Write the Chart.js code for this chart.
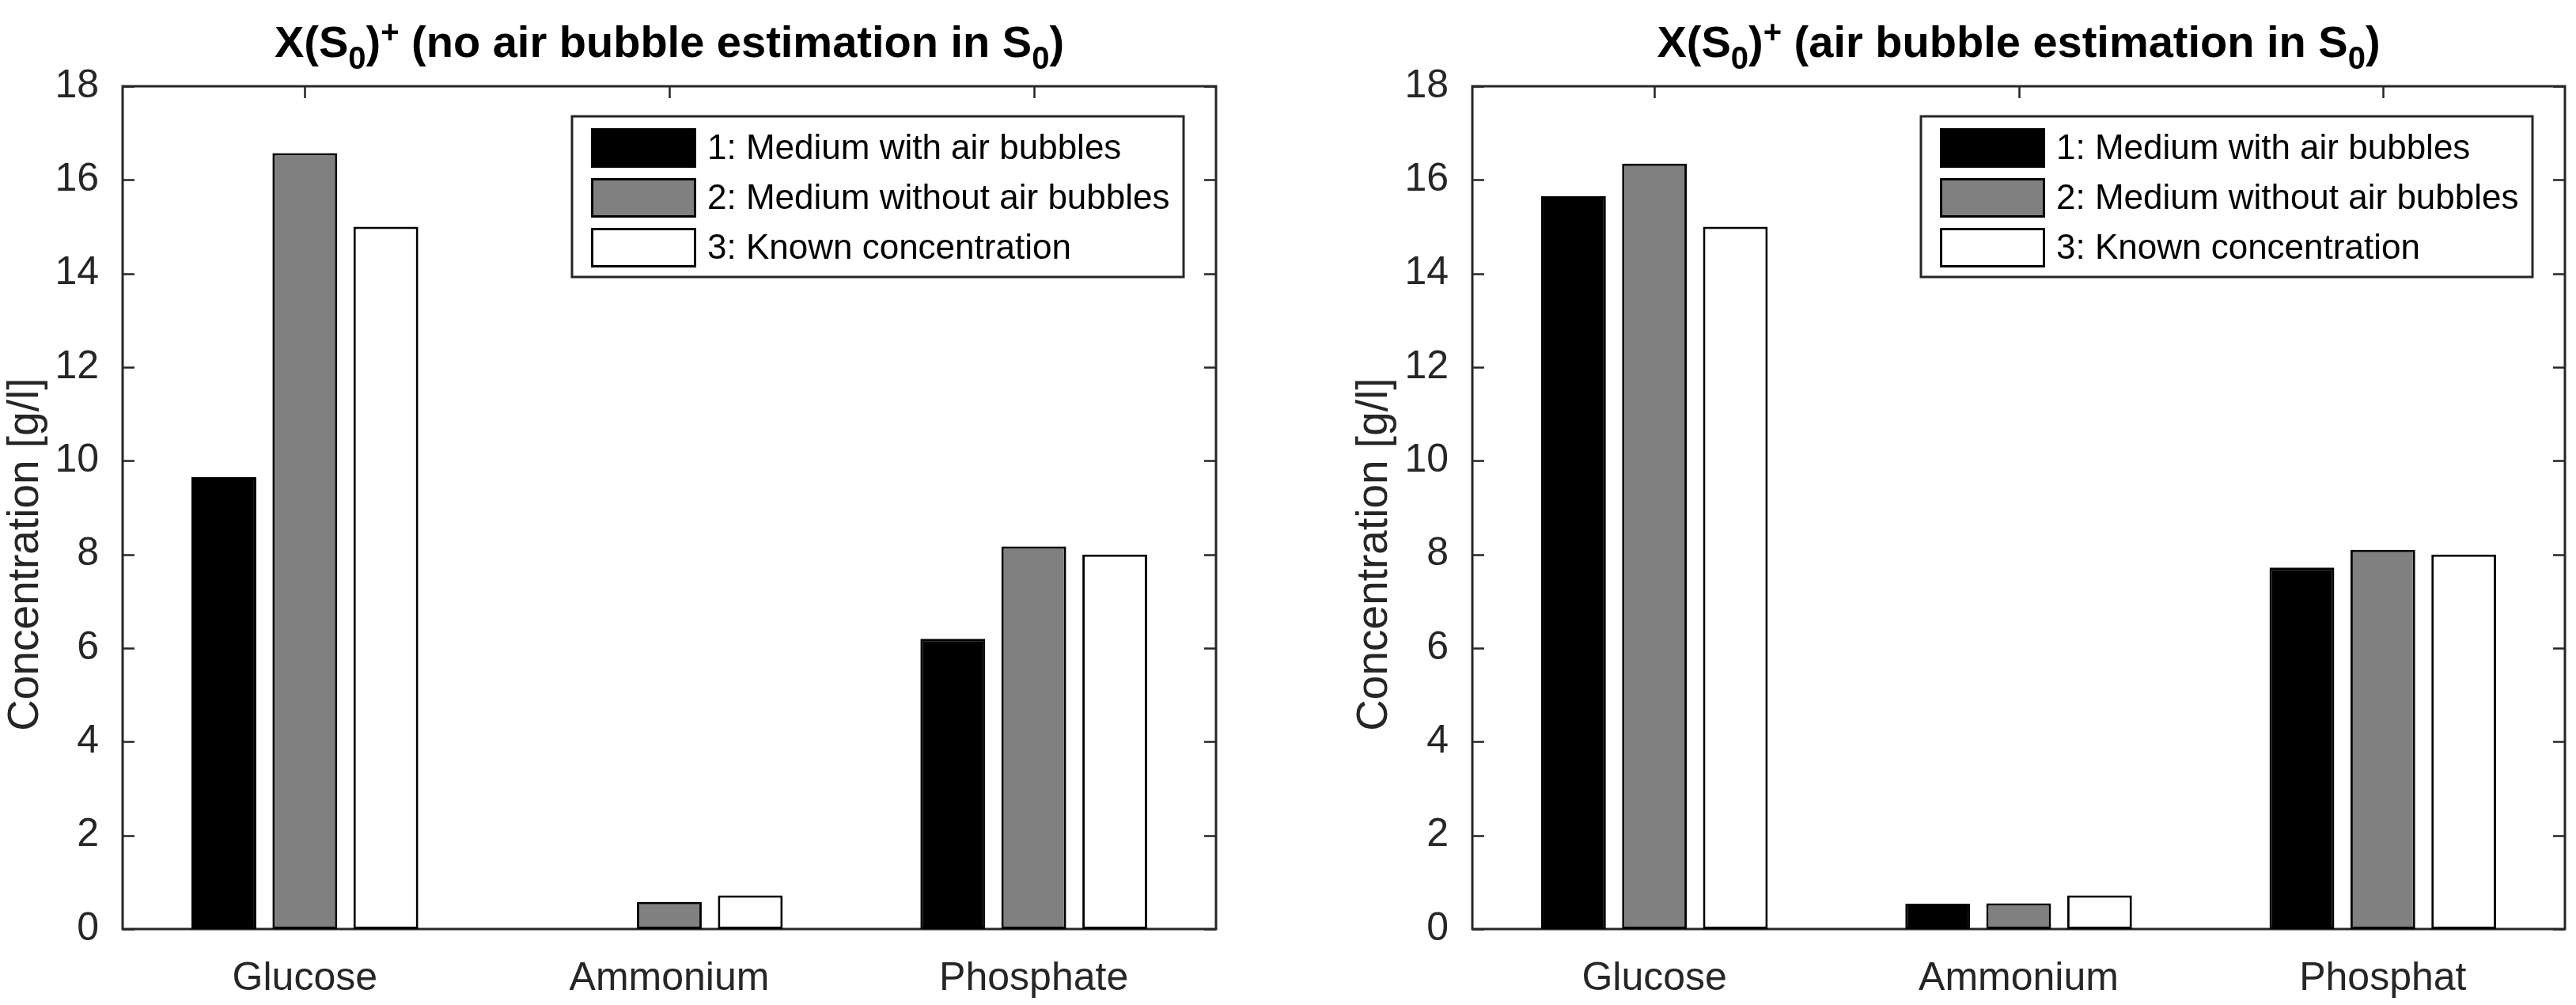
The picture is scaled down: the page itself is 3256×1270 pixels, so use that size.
<!DOCTYPE html>
<html>
<head>
<meta charset="utf-8">
<title>Concentration</title>
<script src="https://cdn.jsdelivr.net/npm/chart.js@4.4.1/dist/chart.umd.min.js"></script>
<style>
body { margin: 0; background: #fff; width: 3256px; height: 1270px; overflow: hidden; }
.wrap { float: left; width: 1628px; height: 1270px; }
canvas { display: block; }
</style>
</head>
<body>
<div class="wrap"><canvas id="left" width="1628" height="1270"></canvas></div>
<div class="wrap"><canvas id="right" width="1628" height="1270"></canvas></div>
<script>
// data
var categoriesA = ['Glucose', 'Ammonium', 'Phosphate'];
var categoriesB = ['Glucose', 'Ammonium', 'Phosphat'];
var seriesNames = ['1: Medium with air bubbles', '2: Medium without air bubbles', '3: Known concentration'];

// left: no air bubble estimation in S0
var withBubblesA = [9.65, 0, 6.2];
var withoutBubblesA = [16.57, 0.58, 8.17];
var knownA = [15, 0.72, 8];

// right: air bubble estimation in S0
var withBubblesB = [15.65, 0.54, 7.72];
var withoutBubblesB = [16.35, 0.55, 8.1];
var knownB = [15, 0.72, 8];

var yMax = 18, yStep = 2;
var yLabel = 'Concentration [g/l]';

var FONT = '"Liberation Sans", Arial, Helvetica, sans-serif';
var AXIS = '#262626';
var fills = ['#000000', '#808080', '#ffffff'];

function makeDatasets(values) {
    return values.map(function(v, i) {
        return {
            label: seriesNames[i],
            data: v,
            backgroundColor: fills[i],
            borderColor: '#000',
            borderWidth: 3,
            borderSkipped: false,
            categoryPercentage: 2 / 3,
            barPercentage: 0.8
        };
    });
}

// box + inward tick marks, like matlab axes
var boxPlugin = {
    id: 'axesBox',
    beforeDatasetsDraw: function(chart) {
        var ctx = chart.ctx, a = chart.chartArea, sx = chart.scales.x, sy = chart.scales.y;
        ctx.save();
        ctx.strokeStyle = AXIS;
        ctx.lineWidth = 2.5;
        ctx.beginPath();
        sy.ticks.forEach(function(t) {
            var py = Math.round(sy.getPixelForValue(t.value)) + 0.5;
            ctx.moveTo(a.left, py); ctx.lineTo(a.left + 15, py);
            ctx.moveTo(a.right, py); ctx.lineTo(a.right - 15, py);
        });
        sx.ticks.forEach(function(t, i) {
            var px = Math.round(sx.getPixelForTick(i)) + 0.5;
            ctx.moveTo(px, a.top); ctx.lineTo(px, a.top + 15);
            ctx.moveTo(px, a.bottom); ctx.lineTo(px, a.bottom - 15);
        });
        ctx.stroke();
        ctx.lineWidth = 3;
        ctx.strokeRect(a.left, a.top, a.right - a.left, a.bottom - a.top);
        ctx.restore();
    }
};

// title with sub/superscripts + rotated y label
var titlePlugin = {
    id: 'texTitle',
    afterDraw: function(chart, args, opts) {
        var ctx = chart.ctx, a = chart.chartArea;
        var big = 'bold 56px ' + FONT, small = 'bold 40px ' + FONT;
        var base = 72;
        ctx.save();
        ctx.fillStyle = '#000';
        ctx.textBaseline = 'alphabetic';
        ctx.textAlign = 'left';
        var total = 0;
        opts.parts.forEach(function(p) {
            ctx.font = p.s === 'n' ? big : small;
            total += ctx.measureText(p.t).width;
        });
        var x = (a.left + a.right) / 2 - total / 2;
        opts.parts.forEach(function(p) {
            ctx.font = p.s === 'n' ? big : small;
            var dy = p.s === 'sub' ? 15 : (p.s === 'sup' ? -18 : 0);
            ctx.fillText(p.t, x, base + dy);
            x += ctx.measureText(p.t).width;
        });

        // y axis label
        ctx.translate(opts.yLabelX, chart.scales.y.getPixelForValue(8));
        ctx.rotate(-Math.PI / 2);
        ctx.font = '55px ' + FONT;
        ctx.fillStyle = AXIS;
        ctx.textAlign = 'center';
        ctx.textBaseline = 'middle';
        ctx.fillText(yLabel, 0, 0);
        ctx.restore();
    }
};

// legend box inside the axes, top right
var legendPlugin = {
    id: 'boxLegend',
    afterDraw: function(chart) {
        var ctx = chart.ctx, a = chart.chartArea;
        var w = 773, h = 203;
        var left = a.right - 41 - w, top = a.top + 38;
        ctx.save();
        ctx.fillStyle = '#fff';
        ctx.fillRect(left, top, w, h);
        ctx.strokeStyle = AXIS;
        ctx.lineWidth = 3;
        ctx.strokeRect(left, top, w, h);
        ctx.font = '44px ' + FONT;
        ctx.textBaseline = 'middle';
        chart.data.datasets.forEach(function(ds, i) {
            var cy = top + 40 + i * 63;
            ctx.fillStyle = ds.backgroundColor;
            ctx.fillRect(left + 24, cy - 25, 133, 50);
            ctx.strokeStyle = '#000';
            ctx.lineWidth = 3;
            ctx.strokeRect(left + 25.5, cy - 23.5, 130, 47);
            ctx.fillStyle = '#000';
            ctx.fillText(ds.label, left + 171, cy + 2);
        });
        ctx.restore();
    }
};

function drawChart(id, labels, values, parts, yWidth, labelX, padRight) {
    var ctx = document.getElementById(id).getContext('2d');
    return new Chart(ctx, {
        type: 'bar',
        data: { labels: labels, datasets: makeDatasets(values) },
        options: {
            responsive: false,
            animation: false,
            devicePixelRatio: 1,
            layout: { padding: { left: 0, right: padRight, top: 109, bottom: 0 } },
            plugins: {
                legend: { display: false },
                title: { display: false },
                tooltip: { enabled: false },
                texTitle: { parts: parts, yLabelX: labelX }
            },
            scales: {
                x: {
                    offset: true,
                    grid: { display: false },
                    border: { display: false },
                    ticks: { font: { family: FONT, size: 50 }, color: AXIS, padding: 25, maxRotation: 0, autoSkip: false },
                    afterFit: function(s) { s.height = 96; }
                },
                y: {
                    min: 0,
                    max: yMax,
                    grid: { display: false },
                    border: { display: false },
                    ticks: { stepSize: yStep, font: { family: FONT, size: 50 }, color: AXIS, padding: 22 },
                    afterFit: function(s) { s.width = yWidth; }
                }
            }
        },
        plugins: [boxPlugin, titlePlugin, legendPlugin]
    });
}

drawChart('left', categoriesA, [withBubblesA, withoutBubblesA, knownA], [
    { t: 'X(S', s: 'n' }, { t: '0', s: 'sub' }, { t: ')', s: 'n' }, { t: '+', s: 'sup' },
    { t: ' (no air bubble estimation in S', s: 'n' }, { t: '0', s: 'sub' }, { t: ')', s: 'n' }
], 155, 33, 91);

drawChart('right', categoriesB, [withBubblesB, withoutBubblesB, knownB], [
    { t: 'X(S', s: 'n' }, { t: '0', s: 'sub' }, { t: ')', s: 'n' }, { t: '+', s: 'sup' },
    { t: ' (air bubble estimation in S', s: 'n' }, { t: '0', s: 'sub' }, { t: ')', s: 'n' }
], 233, 110, 14);
</script>
</body>
</html>
